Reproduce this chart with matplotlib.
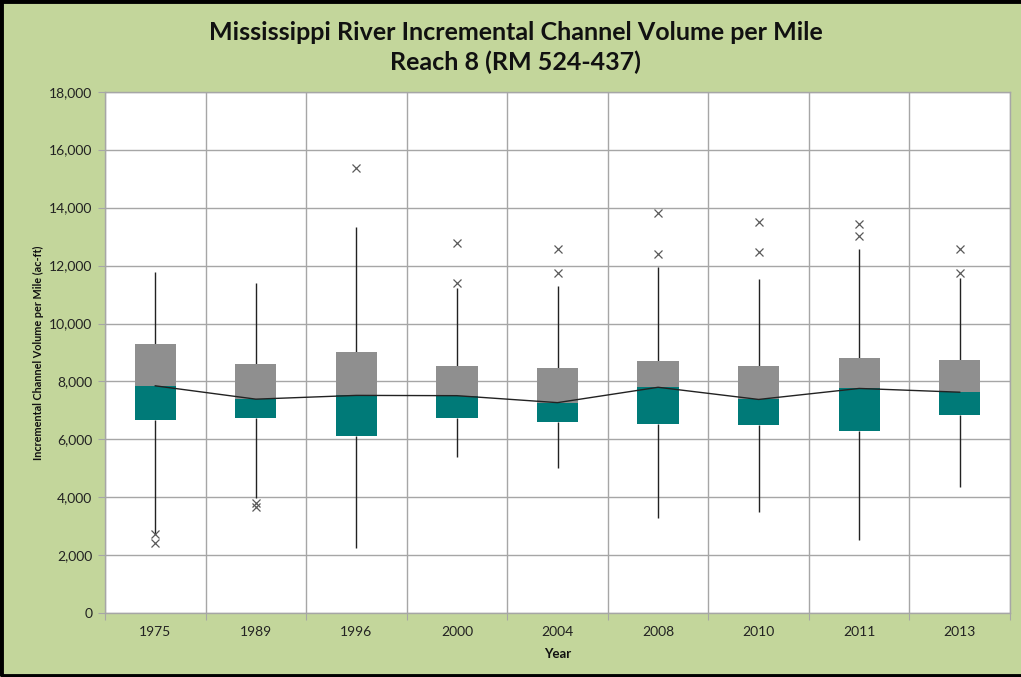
import matplotlib
matplotlib.use("Agg")
import matplotlib.pyplot as plt
from matplotlib.patches import Rectangle
from matplotlib.ticker import FuncFormatter, FixedLocator

# values (ac-ft per mile)
years = ["1975", "1989", "1996", "2000", "2004", "2008", "2010", "2011", "2013"]
whisker_lo = [2750, 3980, 2260, 5380, 5020, 3300, 3510, 2520, 4370]
q1 = [6670, 6730, 6120, 6730, 6590, 6530, 6500, 6300, 6840]
median = [7850, 7390, 7520, 7510, 7270, 7800, 7380, 7760, 7630]
q3 = [9290, 8590, 9010, 8540, 8470, 8700, 8530, 8800, 8740]
whisker_hi = [11790, 11390, 13340, 11210, 11300, 11940, 11530, 12560, 11580]
outliers = [
    [2740, 2420],
    [3820, 3660],
    [15350],
    [12790, 11390],
    [12560, 11730],
    [13820, 12400],
    [13490, 12480],
    [13420, 13030],
    [12570, 11750],
]

BG = "#c3d69b"
TEAL = "#007a78"
GRAY = "#8f8f8f"
GRID = "#a6a6a6"

fig = plt.figure(figsize=(10.21, 6.77), dpi=100, facecolor=BG)
ax = fig.add_axes([105 / 1021, 63.7 / 677, 905 / 1021, 521.6 / 677])
ax.set_facecolor("white")

x = list(range(len(years)))
width = 0.41

# stacked box halves
ax.bar(x, [m - a for m, a in zip(median, q1)], width, bottom=q1,
       color=TEAL, edgecolor="none", zorder=3)
ax.bar(x, [b - m for b, m in zip(q3, median)], width, bottom=median,
       color=GRAY, edgecolor="none", zorder=3)

# whiskers
ax.vlines(x, whisker_lo, q1, color="#222222", lw=1.0, zorder=2)
ax.vlines(x, q3, whisker_hi, color="#222222", lw=1.0, zorder=2)

# outliers
for i, vals in enumerate(outliers):
    ax.plot([i] * len(vals), vals, ls="none", marker="x", ms=5.5,
            mew=0.9, color="#5a5a5a", zorder=4)

# median line
ax.plot(x, median, color="#222222", lw=1.0, zorder=4)

ax.set_xlim(-0.5, len(years) - 0.5)
ax.set_ylim(0, 18000)

ax.xaxis.set_major_locator(FixedLocator([i - 0.5 for i in range(len(years) + 1)]))
ax.xaxis.set_minor_locator(FixedLocator(x))
ax.set_xticklabels([""] * (len(years) + 1))
ax.set_xticklabels(years, minor=True)
ax.tick_params(axis="x", which="major", length=5, color=GRID, direction="out")
ax.tick_params(axis="x", which="minor", length=0, pad=9, labelsize=10,
               labelcolor="#222222")

ax.set_yticks(range(0, 18001, 2000))
ax.yaxis.set_major_formatter(FuncFormatter(lambda v, p: f"{int(v):,}"))
ax.tick_params(axis="y", length=5, color=GRID, direction="out", pad=4,
               labelsize=10, labelcolor="#222222")

for lbl in ax.get_xticklabels(minor=True) + ax.get_yticklabels():
    lbl.set_family("Lato")

ax.grid(True, which="major", color=GRID, lw=1.0, zorder=0)
ax.set_axisbelow(True)
for s in ax.spines.values():
    s.set_color(GRID)
    s.set_linewidth(1.0)

ax.set_xlabel("Year", fontsize=9.5, fontweight="bold", family="Lato",
              labelpad=7, color="#111111")
ax.set_ylabel("Incremental Channel Volume per Mile (ac-ft)", fontsize=7.8,
              fontweight="bold", family="Lato", labelpad=3.5, color="#111111")

fig.text(0.505, 1 - 32 / 677, "Mississippi River Incremental Channel Volume per Mile",
         ha="center", va="center", fontsize=18, fontweight="bold", family="Lato",
         color="#111111")
fig.text(0.505, 1 - 62 / 677, "Reach 8 (RM 524-437)",
         ha="center", va="center", fontsize=18, fontweight="bold", family="Lato",
         color="#111111")

# outer black frame (right edge cropped off in the reference)
fig.patches.append(Rectangle((0.001, 0.002), 1.05, 0.996, transform=fig.transFigure,
                             fill=False, edgecolor="black", lw=3.5))

fig.savefig("out.png", dpi=100, facecolor=BG)
